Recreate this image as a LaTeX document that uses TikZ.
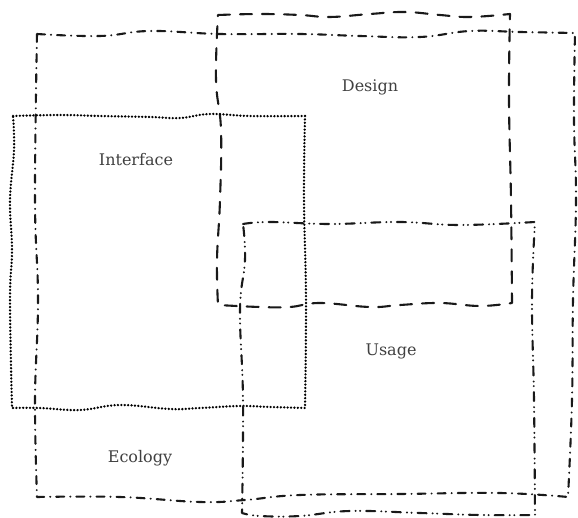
\documentclass[tikz,border=0pt]{standalone}
\usepackage{fontspec}
\setmainfont{DejaVu Serif}
\begin{document}
\begin{tikzpicture}[x=1pt,y=-1pt,
  edge/.style={line width=2.1pt,line cap=round,line join=round,draw=black!90},
  ecol/.style={edge,dash pattern=on 8pt off 6pt on 0.1pt off 6pt},
  design/.style={edge,dash pattern=on 12pt off 10pt},
  iface/.style={edge,line width=2.5pt,draw=black,dash pattern=on 0.1pt off 3.3pt},
  usage/.style={edge,dash pattern=on 9pt off 6pt on 0.1pt off 4.5pt on 0.1pt off 6pt},
  lbl/.style={font=\fontsize{16}{18}\selectfont,text=black!75,inner sep=0pt}]
\useasboundingbox (0,0) rectangle (578,518);
% Ecology
\draw[ecol] plot[smooth,tension=0.7] coordinates {(37,34) (100,36) (150,31) (220,34) (300,34) (360,36) (420,37) (470,31) (520,32) (575,33)}
 -- plot[smooth,tension=0.7] coordinates {(575,33) (574,120) (576,200) (573,300) (572,400) (568,497)}
 -- plot[smooth,tension=0.7] coordinates {(568,497) (500,493) (400,494) (300,495) (245,500) (200,502) (120,497) (37,497)}
 -- plot[smooth,tension=0.7] coordinates {(37,497) (35,400) (38,300) (35,200) (37,34)} -- cycle;
% Design
\draw[design] plot[smooth,tension=0.7] coordinates {(218,15) (260,14) (300,15) (330,17) (370,14) (405,12) (440,15) (470,17) (510,14)}
 -- plot[smooth,tension=0.7] coordinates {(510,14) (509,100) (511,200) (512,303)}
 -- plot[smooth,tension=0.7] coordinates {(512,303) (480,306) (440,303) (400,305) (370,307) (320,303) (290,307) (260,307) (218,305)}
 -- plot[smooth,tension=0.7] coordinates {(218,305) (217,260) (220,200) (221,130) (216,80) (218,15)} -- cycle;
% Interface
\draw[iface] plot[smooth,tension=0.7] coordinates {(13,116) (60,115) (100,116) (150,117) (180,118) (210,114) (250,116) (305,116)}
 -- plot[smooth,tension=0.7] coordinates {(305,116) (304,200) (306,300) (305,408)}
 -- plot[smooth,tension=0.7] coordinates {(305,408) (270,407) (240,406) (200,408) (170,409) (120,405) (80,410) (40,408) (12,408)}
 -- plot[smooth,tension=0.7] coordinates {(12,408) (10,300) (12,250) (10,200) (14,150) (13,116)} -- cycle;
% Usage
\draw[usage] plot[smooth,tension=0.7] coordinates {(243,224) (270,222) (330,224) (400,222) (460,225) (535,222)}
 -- plot[smooth,tension=0.7] coordinates {(535,222) (532,300) (534,400) (535,515)}
 -- plot[smooth,tension=0.7] coordinates {(535,515) (480,515) (420,513) (350,511) (300,516) (260,516) (242,513)}
 -- plot[smooth,tension=0.7] coordinates {(242,513) (243,400) (240,310) (245,260) (243,224)} -- cycle;
% Labels
\node[lbl] (design) at (370,87) {Design};
\node[lbl] (interface) at (136,160) {Interface};
\node[lbl] (usage) at (391,351) {Usage};
\node[lbl] (ecology) at (140,458) {Ecology};
\end{tikzpicture}
\end{document}
